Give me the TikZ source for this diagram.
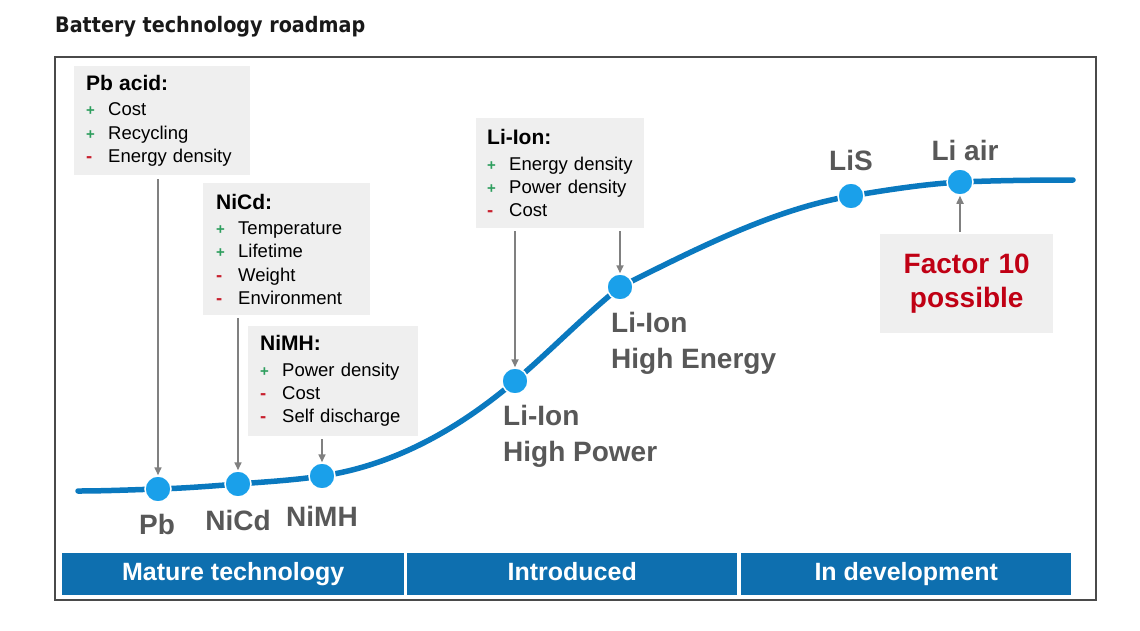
\documentclass[tikz,border=0pt]{standalone}
\usepackage{fontspec}
\setmainfont{Liberation Sans}
\newfontfamily\titlefont[FakeStretch=0.9]{DejaVu Sans}
\usetikzlibrary{arrows.meta}
\definecolor{curveblue}{HTML}{0A79BF}
\definecolor{dotblue}{HTML}{1AA0EA}
\definecolor{barblue}{HTML}{0E6FAF}
\definecolor{boxgray}{HTML}{EFEFEF}
\definecolor{labgray}{HTML}{585858}
\definecolor{arrgray}{HTML}{808080}
\definecolor{framegray}{HTML}{4A4A4A}
\definecolor{pgreen}{HTML}{2E9E5E}
\definecolor{mred}{HTML}{C8202E}
\definecolor{facred}{HTML}{C00014}
\newcommand{\pl}{\makebox[22pt][l]{\textcolor{pgreen}{\fontsize{15}{15}\selectfont\bfseries +}}}
\newcommand{\mi}{\makebox[22pt][l]{\textcolor{mred}{\bfseries -}}}
\newcommand{\hd}[1]{{\fontsize{21}{23}\selectfont\bfseries #1}}
\tikzset{
  x=1pt, y=-1pt,
  box/.style={fill=boxgray, anchor=north west, align=left, inner xsep=12pt, inner ysep=0pt,
    font=\fontsize{18.5}{23.3}\selectfont},
  dot/.style={circle, fill=dotblue, draw=white, line width=1.5pt, minimum size=26pt, inner sep=0pt},
  lab/.style={text=labgray, font=\fontsize{28}{36}\selectfont\bfseries},
  arr/.style={draw=arrgray, line width=1.6pt, -{Triangle[length=8pt,width=7pt]}},
  bar/.style={fill=barblue, text=white, font=\fontsize{25}{25}\selectfont\bfseries,
    anchor=north west, inner sep=0pt, minimum height=42pt, text height=18pt, text depth=5pt},
}
\begin{document}
\begin{tikzpicture}
\useasboundingbox[fill=white] (0,0) rectangle (1140,630);
% title
\node[anchor=base west, inner sep=0pt, font=\titlefont\fontsize{21.3}{22}\selectfont\bfseries, text=black!90] (title) at (55,32) {Battery technology roadmap};
% frame
\draw[framegray, line width=1.8pt] (55,57) rectangle (1096,600);
% bars
\node[bar, minimum width=342pt] (mature) at (62,553) {Mature technology};
\node[bar, minimum width=330pt] (intro) at (407,553) {Introduced};
\node[bar, minimum width=330pt] (indev) at (741,553) {In development};
% curve coordinates
\coordinate (c0) at (78,491);
\coordinate (cpb) at (158,489);
\coordinate (cnicd) at (238,484);
\coordinate (cnimh) at (322,476);
\coordinate (chp) at (515,381);
\coordinate (che) at (620,287);
\coordinate (clis) at (851,196);
\coordinate (cair) at (960,182);
\coordinate (cend) at (1073,180);
\draw[curveblue, line width=5.5pt, line cap=round]
  (c0) .. controls +(26.7,0) and +(-26.7,0.8) .. (cpb)
  .. controls +(26.7,-0.8) and +(-26.7,2.1) .. (cnicd)
  .. controls +(28,-2.2) and +(-28,4.2) .. (cnimh)
  .. controls +(64.3,-9.6) and +(-64.3,54.7) .. (chp)
  .. controls +(35,-29.7) and +(-35,28) .. (che)
  .. controls +(77,-38.5) and +(-77,13.1) .. (clis)
  .. controls +(36.3,-6.2) and +(-36.3,2.2) .. (cair)
  .. controls +(37.7,-1.5) and +(-37.7,0) .. (cend);
% dots
\node[dot] (pb) at (cpb) {};
\node[dot] (nicd) at (cnicd) {};
\node[dot] (nimh) at (cnimh) {};
\node[dot] (hp) at (chp) {};
\node[dot] (he) at (che) {};
\node[dot] (lis) at (clis) {};
\node[dot] (air) at (cair) {};
% labels
\node[lab, anchor=base] (pblab) at (157,534) {Pb};
\node[lab, anchor=base] (nicdlab) at (238,530) {NiCd};
\node[lab, anchor=base] (nimhlab) at (322,526) {NiMH};
\node[lab, anchor=north west, align=left, inner sep=0pt] (hplab) at (503,405) {Li-Ion\\High Power};
\node[lab, anchor=north west, align=left, inner sep=0pt] (helab) at (611,312) {Li-Ion\\High Energy};
\node[lab, anchor=base] (lislab) at (851,170) {LiS};
\node[lab, anchor=base] (airlab) at (965,160) {Li air};
% boxes
\node[box, minimum width=176pt, minimum height=109pt, text width=152pt] (pbbox) at (74,66)
  {\hd{Pb acid:}\\[2pt]\pl Cost\\\pl Recycling\\\mi Energy density};
\node[box, minimum width=165pt, minimum height=132pt, text width=141pt, inner xsep=13pt] (nicdbox) at (203,183)
  {\hd{NiCd:}\\[2pt]\pl Temperature\\\pl Lifetime\\\mi Weight\\\mi Environment};
\node[box, minimum width=170pt, minimum height=110pt, text width=146pt] (nimhbox) at (248,326)
  {\hd{NiMH:}\\[2pt]\pl Power density\\\mi Cost\\\mi Self discharge};
\node[box, minimum width=168pt, minimum height=110pt, text width=146pt, inner xsep=11pt] (libox) at (476,118)
  {\hd{Li-Ion:}\\[2pt]\pl Energy density\\\pl Power density\\\mi Cost};
\node[box, minimum width=173pt, minimum height=99pt, text width=149pt, align=center,
  font=\fontsize{28}{34}\selectfont\bfseries, text=facred] (facbox) at (880,234)
  {Factor 10\\possible};
% arrows
\draw[arr] ([yshift=-4pt]pbbox.south -| pb) -- (pb.north);
\draw[arr] ([yshift=-3pt]nicdbox.south -| nicd) -- (nicd.north);
\draw[arr] ([yshift=-3pt]nimhbox.south -| nimh) -- (nimh.north);
\draw[arr] ([yshift=-3pt]libox.south -| hp) -- (hp.north);
\draw[arr] ([yshift=-3pt]libox.south -| he) -- (he.north);
\draw[arr] ([yshift=2pt]facbox.north -| air) -- (air.south);
\end{tikzpicture}
\end{document}
